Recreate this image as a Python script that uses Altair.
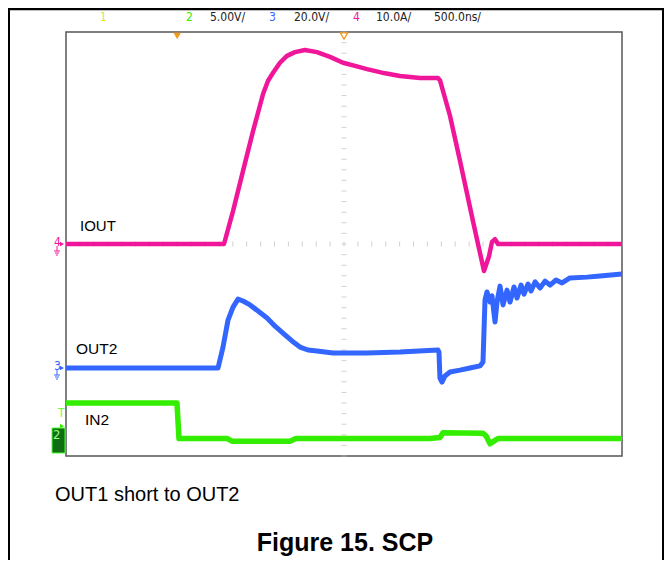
import altair as alt
import pandas as pd

# ---------------- data ----------------
# time in ns relative to screen centre, 500 ns/div
iout_t = [-2500, -1079, -998, -908, -818, -728, -683, -638, -576, -513, -441, -351, -243, -126, -9,
          99, 207, 369, 504, 684, 845, 863, 953, 1043, 1160, 1259, 1304, 1331, 1358, 1385, 2500]
iout_a = [0, 0, 6.2, 13.8, 21.3, 28.3, 30.8, 32.3, 34.2, 35.5, 36.2, 36.6, 36.2, 35.3, 34.2,
          33.6, 33.0, 32.2, 31.7, 31.3, 31.3, 30.9, 24.2, 15.7, 4.3, -5.1, -2.3, 0.4, 0.9, 0, 0]

out2_t = [-2500, -1133, -1088, -1043, -998, -953, -908, -845, -773, -692, -620, -549, -468, -396,
          -324, -243, -99, 207, 504, 845, 854, 863, 881, 908, 953, 1043, 1133, 1223, 1250, 1268,
          1286, 1313, 1331, 1358, 1376, 1403, 1430, 1466, 1493, 1529, 1556, 1592, 1619, 1655,
          1682, 1718, 1763, 1808, 1853, 1907, 1961, 2032, 2185, 2302, 2500]
out2_v = [0, 0, 7.9, 18.1, 23.0, 26.0, 25.3, 23.8, 21.5, 18.9, 15.8, 13.2, 10.2, 7.9,
          6.8, 6.4, 5.7, 5.7, 6.0, 6.8, 6.0, -3.8, -5.3, -3.0, -1.5, -0.8, 0, 0.8, 2.3, 25.7,
          28.7, 24.9, 27.2, 17.4, 24.9, 30.9, 23.8, 29.4, 24.9, 30.6, 26.4, 31.3, 27.9, 31.7,
          29.1, 32.5, 30.2, 32.8, 31.3, 33.2, 32.1, 34.0, 34.3, 34.7, 35.5]

in2_t = [-2500, -1502, -1484, -1052, -1007, -486, -432, 773, 863, 890, 1250, 1277, 1313, 1349, 1385, 2500]
in2_v = [3.5, 3.5, 0.15, 0.15, -0.1, -0.1, 0.15, 0.15, 0.25, 0.7, 0.65, 0.4, -0.35, -0.1, 0.15, 0.15]

header_text = ["1", "2", "5.00V/", "3", "20.0V/", "4", "10.0A/", "500.0ns/"]
trigger_t = [-1500]
hpos_t = [0]

# channel settings: units per division and ground offset (divisions from bottom)
IOUT_SCALE, IOUT_OFF = 10.0, 4.0
OUT2_SCALE, OUT2_OFF = 20.0, 1.66
IN2_SCALE, IN2_OFF = 5.0, 0.30

W, H = 556, 424
PXY = H / 8.0

C_IOUT = "#f0169a"
C_OUT2 = "#3366ff"
C_IN2 = "#33ee00"
C_YEL = "#e6e600"
FONT = "Liberation Sans"
NARROW = "Liberation Sans Narrow, DejaVu Sans Condensed, Liberation Sans"

xs = alt.Scale(domain=[-2500, 2500], nice=False, zero=False)
ys = alt.Scale(domain=[0, 8], nice=False, zero=False)

axx = alt.Axis(values=list(range(-2500, 2501, 500)), grid=True, gridColor="#d4d4d4", gridWidth=1.2,
               labels=False, ticks=False, domain=False, title=None)
axy = alt.Axis(values=list(range(0, 9)), grid=True, gridColor="#d4d4d4", gridWidth=1.2,
               labels=False, ticks=False, domain=False, title=None)


def trace(t, v, scale, off):
    return pd.DataFrame({"t": t, "y": [off + a / scale for a in v]})


# minor ticks on the centre cross
vt = pd.DataFrame({"t": [0] * 41, "y": [i * 0.2 for i in range(41)]})
ht = pd.DataFrame({"t": [-2500 + 125 * k for k in range(41)], "y": [4] * 41})

vticks = alt.Chart(vt).mark_tick(orient="horizontal", size=5, thickness=1, color="#bdbdbd").encode(
    x=alt.X("t:Q", scale=xs, axis=axx), y=alt.Y("y:Q", scale=ys, axis=axy))
hticks = alt.Chart(ht).mark_tick(orient="vertical", size=5, thickness=1, color="#bdbdbd").encode(
    x=alt.X("t:Q", scale=xs, axis=None), y=alt.Y("y:Q", scale=ys, axis=None))


def line(df, color, width):
    return alt.Chart(df).mark_line(color=color, strokeWidth=width, strokeJoin="round", strokeCap="round",
                                   clip=True).encode(
        x=alt.X("t:Q", scale=xs, axis=None), y=alt.Y("y:Q", scale=ys, axis=None))


l_iout = line(trace(iout_t, iout_a, IOUT_SCALE, IOUT_OFF), C_IOUT, 4.5)
l_out2 = line(trace(out2_t, out2_v, OUT2_SCALE, OUT2_OFF), C_OUT2, 5)
l_in2 = line(trace(in2_t, in2_v, IN2_SCALE, IN2_OFF), C_IN2, 5.5)

# trigger markers
trig = alt.Chart(pd.DataFrame({"t": trigger_t})).mark_point(
    shape="triangle-down", filled=True, color="#f29a1c", size=55, opacity=1).encode(
    x=alt.X("t:Q", scale=xs, axis=None), y=alt.value(4))
hpos = alt.Chart(pd.DataFrame({"t": hpos_t})).mark_point(
    shape="triangle-down", filled=False, color="#f29a1c", size=55, strokeWidth=1.3, opacity=1).encode(
    x=alt.X("t:Q", scale=xs, axis=None), y=alt.value(4))


def txt(text, x, y, color="#000", size=15, font=FONT, weight="normal", align="left"):
    return alt.Chart(pd.DataFrame({"s": [text]})).mark_text(
        align=align, baseline="middle", fontSize=size, font=font, fontWeight=weight, color=color).encode(
        text="s:N", x=alt.value(x), y=alt.value(y))


hx = [34, 120, 144, 203, 228, 287, 310, 368]
hc = [C_YEL, C_IN2, "#222", C_OUT2, "#222", C_IOUT, "#222", "#222"]
header = [txt(s, x, -15, color=c, size=12, font=NARROW) for s, x, c in zip(header_text, hx, hc)]

labels = [
    txt("IOUT", 14, 194, size=15),
    txt("OUT2", 10, 317, size=15.5),
    txt("IN2", 19, 388, size=15.5),
    txt("OUT1 short to OUT2", -11, 463, size=20),
    txt("Figure 15. SCP", 279, 511, size=25, weight="bold", align="center"),
]

# ground markers on the left edge
y4 = H - IOUT_OFF * PXY
y3 = H - OUT2_OFF * PXY
y2 = H - IN2_OFF * PXY
gm = [
    txt("4", -12, y4 - 2, color=C_IOUT, size=12, font=NARROW),
    txt("3", -12, y3 - 2, color=C_OUT2, size=12, font=NARROW),
]
arrows = [
    alt.Chart(pd.DataFrame({"a": [0]})).mark_point(shape="triangle-right", filled=True, color=c, size=22,
                                                   opacity=1).encode(x=alt.value(-4), y=alt.value(yy))
    for c, yy in [(C_IOUT, y4), (C_OUT2, y3), (C_IN2, y2 - 14)]
]
grounds = [
    alt.Chart(pd.DataFrame({"a": [0]})).mark_rule(color=c, strokeWidth=1).encode(
        x=alt.value(-9), y=alt.value(yy + 2), y2=alt.value(yy + 7))
    for c, yy in [(C_IOUT, y4), (C_OUT2, y3)]
] + [
    alt.Chart(pd.DataFrame({"a": [0]})).mark_rule(color=c, strokeWidth=1).encode(
        x=alt.value(-9 - w), x2=alt.value(-9 + w), y=alt.value(yy + 7 + 2 * i))
    for c, yy in [(C_IOUT, y4), (C_OUT2, y3)] for i, w in enumerate([3, 2, 1])
]
box2 = alt.Chart(pd.DataFrame({"a": [0]})).mark_rect(fill="#0f6e12", stroke="#4dff33", strokeWidth=1).encode(
    x=alt.value(-14), x2=alt.value(-1), y=alt.value(396), y2=alt.value(421))
box2_t = txt("2", -13, 403, color="#9cff80", size=13, font=NARROW)
t_mark = txt("T", -8, 381, color="#66ff44", size=12, font=NARROW)

# outer document frame
frame = [
    alt.Chart(pd.DataFrame({"a": [0]})).mark_rule(color="#000", strokeWidth=2.5).encode(
        x=alt.value(-58), x2=alt.value(598), y=alt.value(-23)),
    alt.Chart(pd.DataFrame({"a": [0]})).mark_rule(color="#000", strokeWidth=2).encode(
        x=alt.value(-57), y=alt.value(-24), y2=alt.value(528)),
    alt.Chart(pd.DataFrame({"a": [0]})).mark_rule(color="#000", strokeWidth=2).encode(
        x=alt.value(597), y=alt.value(-24), y2=alt.value(528)),
]

chart = alt.layer(
    vticks, hticks, l_iout, l_out2, l_in2, trig, hpos,
    *header, *labels, *gm, *arrows, *grounds, box2, box2_t, t_mark, *frame
).properties(
    width=W, height=H,
    padding={"left": 58, "top": 24, "right": 42, "bottom": 104},
    autosize=alt.AutoSizeParams(type="none"),
    background="white",
).configure_view(stroke="#555", strokeWidth=1.5)

chart.save("out.html", embed_options={"renderer": "svg", "actions": False})
